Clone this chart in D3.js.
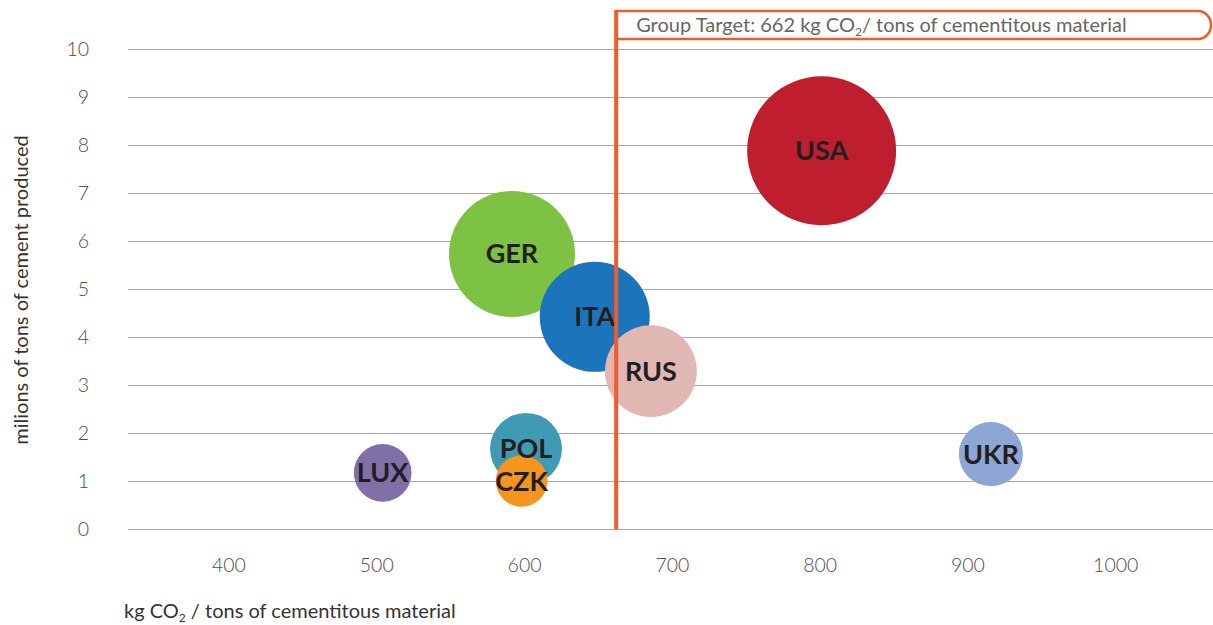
<!DOCTYPE html>
<html><head><meta charset="utf-8">
<script src="https://cdn.jsdelivr.net/npm/d3@7"></script>
<style>
body{margin:0;background:#fff;}
svg{display:block;}
</style></head>
<body><svg id="c" width="1213" height="625"></svg>
<script>
const countries = ["USA","GER","ITA","RUS","POL","CZK","LUX","UKR"];
const emissions = [801, 591.5, 647.5, 685.5, 601, 598, 504, 915.5];   // kg CO2 / t
const production = [7.88, 5.73, 4.42, 3.29, 1.67, 1.0, 1.17, 1.56];   // Mt cement
const bubbleSize = [100, 71.5, 54.5, 38, 23.3, 12, 15, 18.5];
const colors = ["#be1e2d","#7dc242","#1c75bc","#e1b7b4","#3e9bb3","#f7941d","#8070a8","#8ea6d3"];
const xTicks = [400,500,600,700,800,900,1000];
const yTicks = [0,1,2,3,4,5,6,7,8,9,10];
const targetValue = 662;
const targetLabel = "Group Target: 662 kg CO";

const svg = d3.select("#c");
const font = "'Source Sans Pro','Lato','Noto Sans',sans-serif";
const x = d3.scaleLinear().domain([331.7,1065.8]).range([128,1213]);
const y = d3.scaleLinear().domain([0,10]).range([529,49]);
const r = d3.scaleSqrt().domain([0,100]).range([0,74.5]);

// gridlines
svg.append("g").selectAll("line").data(yTicks).join("line")
  .attr("x1",128).attr("x2",1213)
  .attr("y1",d=>y(d)+0.5).attr("y2",d=>y(d)+0.5)
  .attr("stroke","#a6a6a6").attr("stroke-width",1);

// y tick labels
svg.append("g").selectAll("text").data(yTicks).join("text")
  .attr("x",89).attr("y",d=>y(d)+7).attr("text-anchor","end")
  .attr("font-family",font).attr("font-weight",300).attr("font-size",19.5)
  .attr("fill","#4d4d4d").text(d=>d);

// x tick labels
svg.append("g").selectAll("text").data(xTicks).join("text")
  .attr("x",d=>x(d)).attr("y",572).attr("text-anchor","middle")
  .attr("font-family",font).attr("font-weight",300).attr("font-size",19.5)
  .attr("fill","#4d4d4d").text(d=>d);

// axis titles
svg.append("text").attr("transform","translate(28,290) rotate(-90)")
  .attr("text-anchor","middle").attr("font-family",font).attr("font-size",20)
  .attr("fill","#333").text("milions of tons of cement produced");

const xt = svg.append("text").attr("x",124).attr("y",618)
  .attr("font-family",font).attr("font-size",20).attr("fill","#333");
xt.append("tspan").text("kg CO");
xt.append("tspan").attr("font-size",12).attr("dy",4).text("2");
xt.append("tspan").attr("dy",-4).text(" / tons of cementitous material");

// bubbles
const idx = d3.range(countries.length);
svg.append("g").selectAll("circle").data(idx).join("circle")
  .attr("cx",i=>x(emissions[i])).attr("cy",i=>y(production[i]))
  .attr("r",i=>r(bubbleSize[i])).attr("fill",i=>colors[i]);

// target line + box
const tx = x(targetValue);
svg.append("path")
  .attr("d",`M${tx},11 H1198 A13,14 0 0 1 1198,39 H${tx}`)
  .attr("fill","#fff").attr("stroke","#f15a29").attr("stroke-width",2.5);
const tt = svg.append("text").attr("x",tx+20).attr("y",32)
  .attr("font-family",font).attr("font-size",20).attr("fill","#666");
tt.append("tspan").text(targetLabel);
tt.append("tspan").attr("font-size",12).attr("dy",4).text("2");
tt.append("tspan").attr("dy",-4).text("/ tons of cementitous material");

// labels
svg.append("g").selectAll("text").data(idx).join("text")
  .attr("x",i=>x(emissions[i])).attr("y",i=>y(production[i])+9.5)
  .attr("text-anchor","middle").attr("font-family",font).attr("font-weight",700)
  .attr("font-size",27).attr("fill","#231f20").text(i=>countries[i]);

svg.append("line").attr("x1",tx).attr("x2",tx).attr("y1",10).attr("y2",529)
  .attr("stroke","#f15a29").attr("stroke-width",4);
</script></body></html>
